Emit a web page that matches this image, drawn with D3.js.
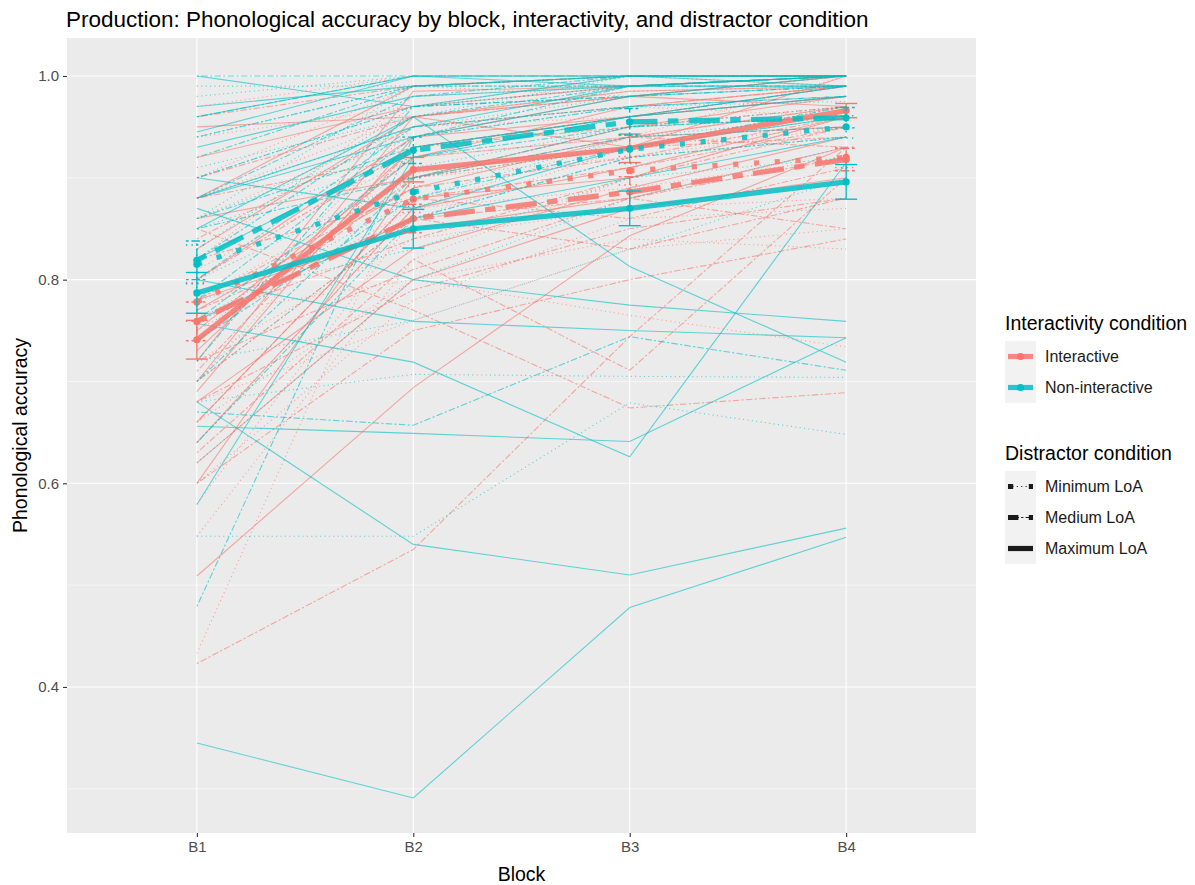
<!DOCTYPE html>
<html>
<head>
<meta charset="utf-8">
<script src="https://cdn.jsdelivr.net/npm/d3@7"></script>
<style>
  body { margin: 0; background: #fff; }
  text { font-family: "Liberation Sans", Arial, sans-serif; }
</style>
</head>
<body>
<div id="chart"></div>
<script>
// Blocks (x categories)
const blocks = ["B1", "B2", "B3", "B4"];
const yTicks = [0.4, 0.6, 0.8, 1.0];
const yMinor = [0.3, 0.5, 0.7, 0.9];

// Condition labels
const interLabels = ["Interactive", "Non-interactive"];
const distLabels = ["Minimum LoA", "Medium LoA", "Maximum LoA"];

// Per-participant accuracy, B1..B4
const interMin = [
    [0.433, 0.905, 0.930, 0.970], [0.765, 0.800, 0.765, 0.734], [0.548, 0.820, 0.900, 0.960],
    [0.640, 0.870, 0.940, 1.000], [0.700, 0.930, 0.960, 0.980], [0.820, 0.980, 0.990, 1.000],
    [0.880, 0.960, 0.985, 0.990], [0.720, 0.840, 0.870, 0.880], [0.780, 0.900, 0.920, 0.950],
    [0.660, 0.800, 0.840, 0.830], [0.940, 0.970, 1.000, 1.000], [0.750, 0.870, 0.890, 0.920],
    [0.600, 0.780, 0.860, 0.870], [0.860, 0.950, 0.960, 0.990], [0.680, 0.760, 0.830, 0.850],
    [0.580, 0.860, 0.930, 0.950], [0.900, 0.990, 0.980, 1.000], [0.740, 0.950, 0.970, 0.960],
    [0.810, 0.920, 0.940, 0.970], [0.970, 1.000, 1.000, 0.990]
];
const interMed = [
    [0.423, 0.535, 0.744, 0.930], [0.850, 0.770, 0.674, 0.689], [0.630, 0.820, 0.711, 0.900],
    [0.700, 0.860, 0.880, 0.920], [0.760, 0.840, 0.900, 0.950], [0.800, 0.930, 0.950, 0.970],
    [0.680, 0.790, 0.850, 0.880], [0.900, 0.960, 0.980, 1.000], [0.740, 0.900, 0.930, 0.940],
    [0.820, 0.880, 0.860, 0.910], [0.960, 0.990, 1.000, 1.000], [0.720, 0.810, 0.880, 0.850],
    [0.780, 0.890, 0.920, 0.960], [0.660, 0.880, 0.910, 0.950], [0.600, 0.750, 0.800, 0.840],
    [0.840, 0.950, 0.970, 0.990], [0.710, 0.930, 0.960, 0.980], [0.880, 0.920, 0.940, 0.930],
    [0.770, 0.860, 0.830, 0.880]
];
const interMax = [
    [0.509, 0.694, 0.843, 0.930], [0.600, 0.900, 0.950, 0.980], [0.700, 0.960, 0.930, 1.000],
    [0.750, 0.920, 0.970, 0.990], [0.660, 0.880, 0.900, 0.960], [0.800, 0.940, 0.960, 0.980],
    [0.720, 0.985, 0.990, 1.000], [0.860, 0.900, 0.940, 0.950], [0.780, 0.850, 0.880, 0.930],
    [0.690, 0.940, 0.980, 0.970], [0.920, 0.970, 0.990, 1.000], [0.830, 0.960, 0.985, 0.990],
    [0.640, 0.870, 0.910, 0.960], [0.620, 0.800, 0.870, 0.900], [0.730, 0.930, 0.960, 0.990],
    [0.680, 0.830, 0.890, 0.940], [0.880, 0.990, 1.000, 1.000], [0.770, 0.890, 0.940, 0.970],
    [0.950, 0.960, 0.980, 1.000]
];
const nonMin = [
    [0.548, 0.548, 0.679, 0.648], [0.680, 0.707, 0.705, 0.704], [0.760, 0.880, 0.940, 0.960],
    [0.850, 0.920, 0.960, 0.980], [0.900, 0.970, 0.990, 1.000], [0.980, 1.000, 1.000, 1.000],
    [0.700, 0.860, 0.920, 0.940], [0.800, 0.900, 0.930, 0.960], [0.880, 0.950, 0.980, 0.990],
    [0.620, 0.800, 0.880, 0.930], [0.940, 0.990, 1.000, 1.000], [0.780, 0.830, 0.900, 0.920],
    [0.860, 0.940, 0.970, 0.975], [0.720, 0.760, 0.830, 0.900], [0.830, 0.970, 0.990, 0.990],
    [0.910, 0.960, 1.000, 1.000], [0.740, 0.910, 0.950, 0.970], [0.990, 0.990, 1.000, 1.000],
    [0.860, 0.990, 0.990, 1.000]
];
const nonMed = [
    [0.479, 0.940, 0.970, 0.980], [0.670, 0.657, 0.744, 0.711], [0.820, 0.960, 0.990, 1.000],
    [0.760, 0.920, 0.950, 0.960], [0.880, 0.980, 1.000, 1.000], [0.940, 0.990, 0.990, 1.000],
    [0.700, 0.900, 0.940, 0.950], [0.800, 0.950, 0.970, 0.980], [0.860, 0.930, 0.960, 0.990],
    [0.740, 0.880, 0.930, 0.970], [1.000, 1.000, 1.000, 1.000], [0.900, 0.970, 0.980, 0.990],
    [0.640, 0.860, 0.920, 0.940], [0.780, 0.940, 0.990, 0.990], [0.960, 1.000, 1.000, 1.000],
    [0.850, 0.900, 0.950, 0.960], [0.920, 0.990, 1.000, 1.000], [0.720, 0.970, 0.980, 0.990]
];
const nonMax = [
    [0.345, 0.291, 0.478, 0.547], [0.680, 0.540, 0.510, 0.556], [0.656, 0.649, 0.641, 0.743],
    [0.757, 0.719, 0.626, 0.915], [0.870, 0.800, 0.775, 0.759], [0.800, 0.759, 0.750, 0.743],
    [0.850, 0.960, 0.813, 0.719], [0.579, 0.920, 0.960, 0.980], [0.945, 1.000, 0.990, 1.000],
    [0.900, 0.870, 0.930, 0.960], [0.970, 0.990, 1.000, 0.990], [0.760, 0.860, 0.900, 0.940],
    [0.880, 0.940, 0.980, 1.000], [1.000, 0.970, 1.000, 1.000], [0.820, 0.930, 0.960, 0.990],
    [0.960, 1.000, 1.000, 1.000], [0.930, 0.980, 0.990, 0.990], [0.880, 0.950, 0.990, 1.000]
];

// Condition means and standard errors, B1..B4
const interMinMean = [0.778, 0.879, 0.907, 0.920];
const interMedMean = [0.759, 0.860, 0.886, 0.918];
const interMaxMean = [0.741, 0.908, 0.929, 0.966];
const nonMinMean   = [0.815, 0.886, 0.928, 0.950];
const nonMedMean   = [0.819, 0.927, 0.955, 0.959];
const nonMaxMean   = [0.787, 0.850, 0.870, 0.896];

const interMinSE = [0.019, 0.013, 0.014, 0.010];
const interMedSE = [0.019, 0.014, 0.015, 0.011];
const interMaxSE = [0.019, 0.012, 0.014, 0.007];
const nonMinSE   = [0.019, 0.014, 0.014, 0.011];
const nonMedSE   = [0.019, 0.013, 0.013, 0.010];
const nonMaxSE   = [0.020, 0.019, 0.017, 0.017];

const groups = [
    { inter: 0, dist: 0, subj: interMin, mean: interMinMean, se: interMinSE },
    { inter: 0, dist: 1, subj: interMed, mean: interMedMean, se: interMedSE },
    { inter: 0, dist: 2, subj: interMax, mean: interMaxMean, se: interMaxSE },
    { inter: 1, dist: 0, subj: nonMin, mean: nonMinMean, se: nonMinSE },
    { inter: 1, dist: 1, subj: nonMed, mean: nonMedMean, se: nonMedSE },
    { inter: 1, dist: 2, subj: nonMax, mean: nonMaxMean, se: nonMaxSE }
];

const colors = ["#F8766D", "#00BFC4"];
// dash patterns in multiples of line width: dotted, twodash, solid
const dashUnits = [[1, 3], [2, 2, 6, 2], null];
const dash = (d, lw) => dashUnits[d] ? dashUnits[d].map(u => u * lw).join(",") : null;

const W = 1195, H = 885;
const panel = { left: 67, right: 976, top: 38, bottom: 833 };

const svg = d3.select("#chart").append("svg")
    .attr("width", W).attr("height", H);

const x = d3.scalePoint().domain(blocks)
    .range([panel.left, panel.right]).padding(0.6);
const y = d3.scaleLinear().domain([0.2566, 1.0373])
    .range([panel.bottom, panel.top]);

// Panel background and grid
svg.append("rect")
    .attr("x", panel.left).attr("y", panel.top)
    .attr("width", panel.right - panel.left).attr("height", panel.bottom - panel.top)
    .attr("fill", "#EBEBEB");

svg.append("g").selectAll("line").data(yMinor).join("line")
    .attr("x1", panel.left).attr("x2", panel.right)
    .attr("y1", d => y(d)).attr("y2", d => y(d))
    .attr("stroke", "#fff").attr("stroke-width", 0.55);
svg.append("g").selectAll("line").data(yTicks).join("line")
    .attr("x1", panel.left).attr("x2", panel.right)
    .attr("y1", d => y(d)).attr("y2", d => y(d))
    .attr("stroke", "#fff").attr("stroke-width", 1.1);
svg.append("g").selectAll("line").data(blocks).join("line")
    .attr("x1", d => x(d)).attr("x2", d => x(d))
    .attr("y1", panel.top).attr("y2", panel.bottom)
    .attr("stroke", "#fff").attr("stroke-width", 1.1);

const line = d3.line().x((v, i) => x(blocks[i])).y(v => y(v));

// Participant lines
const thin = 1.1;
groups.forEach(g => {
    svg.append("g").selectAll("path").data(g.subj).join("path")
        .attr("d", line)
        .attr("fill", "none")
        .attr("stroke", colors[g.inter])
        .attr("stroke-opacity", 0.6)
        .attr("stroke-width", thin)
        .attr("stroke-dasharray", dash(g.dist, thin));
});

// Mean lines
const thick = 5.2;
groups.forEach(g => {
    svg.append("path")
        .attr("d", line(g.mean))
        .attr("fill", "none")
        .attr("stroke", colors[g.inter])
        .attr("stroke-opacity", 0.85)
        .attr("stroke-width", thick)
        .attr("stroke-dasharray", dash(g.dist, thick));
});

// Error bars and points
const capW = 11, ebw = 1.4;
groups.forEach(g => {
    const eb = svg.append("g")
        .attr("stroke", colors[g.inter])
        .attr("stroke-width", ebw)
        .attr("stroke-dasharray", dash(g.dist, ebw));
    g.mean.forEach((m, i) => {
        const cx = x(blocks[i]);
        const lo = y(m - g.se[i]), hi = y(m + g.se[i]);
        eb.append("line").attr("x1", cx).attr("x2", cx).attr("y1", lo).attr("y2", hi);
        eb.append("line").attr("x1", cx - capW).attr("x2", cx + capW).attr("y1", lo).attr("y2", lo);
        eb.append("line").attr("x1", cx - capW).attr("x2", cx + capW).attr("y1", hi).attr("y2", hi);
    });
    svg.append("g").selectAll("circle").data(g.mean).join("circle")
        .attr("cx", (v, i) => x(blocks[i]))
        .attr("cy", v => y(v))
        .attr("r", 3.6)
        .attr("fill", colors[g.inter]);
});

// Axes
const yAxis = svg.append("g")
    .attr("transform", `translate(${panel.left},0)`)
    .call(d3.axisLeft(y).tickValues(yTicks).tickFormat(d3.format(".1f")).tickSize(4).tickPadding(4));
const xAxis = svg.append("g")
    .attr("transform", `translate(0,${panel.bottom})`)
    .call(d3.axisBottom(x).tickSize(4).tickPadding(4));
[yAxis, xAxis].forEach(a => {
    a.select(".domain").remove();
    a.selectAll(".tick line").attr("stroke", "#333").attr("stroke-width", 1.1);
    a.selectAll(".tick text").attr("fill", "#4D4D4D")
        .style("font-size", "15px").style("font-family", "Liberation Sans, Arial, sans-serif");
});

// Titles
svg.append("text")
    .attr("x", panel.left - 1).attr("y", 27)
    .style("font-size", "22.5px").attr("fill", "#000")
    .text("Production: Phonological accuracy by block, interactivity, and distractor condition");
svg.append("text")
    .attr("x", (panel.left + panel.right) / 2).attr("y", 881)
    .attr("text-anchor", "middle")
    .style("font-size", "19.5px")
    .text("Block");
svg.append("text")
    .attr("transform", `translate(27,${(panel.top + panel.bottom) / 2}) rotate(-90)`)
    .attr("text-anchor", "middle")
    .style("font-size", "19.5px")
    .text("Phonological accuracy");

// Legends
const legX = 1005, keyW = 31, keyH = 31;
function legend(top, title, labels, drawKey) {
    const lg = svg.append("g").attr("transform", `translate(${legX},${top})`);
    lg.append("text").attr("x", 0).attr("y", 0).style("font-size", "19.5px").text(title);
    labels.forEach((lab, i) => {
        const ky = 11 + i * keyH;
        lg.append("rect").attr("x", 0).attr("y", ky).attr("width", keyW).attr("height", keyH)
            .attr("fill", "#F2F2F2");
        drawKey(lg, i, ky + keyH / 2);
        lg.append("text").attr("x", keyW + 9).attr("y", ky + keyH / 2 + 5.5)
            .style("font-size", "16px").attr("fill", "#1a1a1a").text(lab);
    });
}
legend(330, "Interactivity condition", interLabels, (lg, i, cy) => {
    lg.append("line").attr("x1", 3).attr("x2", keyW - 3).attr("y1", cy).attr("y2", cy)
        .attr("stroke", colors[i]).attr("stroke-width", thick).attr("stroke-opacity", 0.85);
    lg.append("circle").attr("cx", keyW / 2).attr("cy", cy).attr("r", 3.6).attr("fill", colors[i]);
});
legend(460, "Distractor condition", distLabels, (lg, i, cy) => {
    lg.append("line").attr("x1", 3).attr("x2", keyW - 3).attr("y1", cy).attr("y2", cy)
        .attr("stroke", "#1a1a1a").attr("stroke-width", thin).attr("stroke-dasharray", dash(i, thin));
    lg.append("line").attr("x1", 3).attr("x2", keyW - 3).attr("y1", cy).attr("y2", cy)
        .attr("stroke", "#1a1a1a").attr("stroke-width", thick).attr("stroke-dasharray", dash(i, thick));
});
</script>
</body>
</html>
